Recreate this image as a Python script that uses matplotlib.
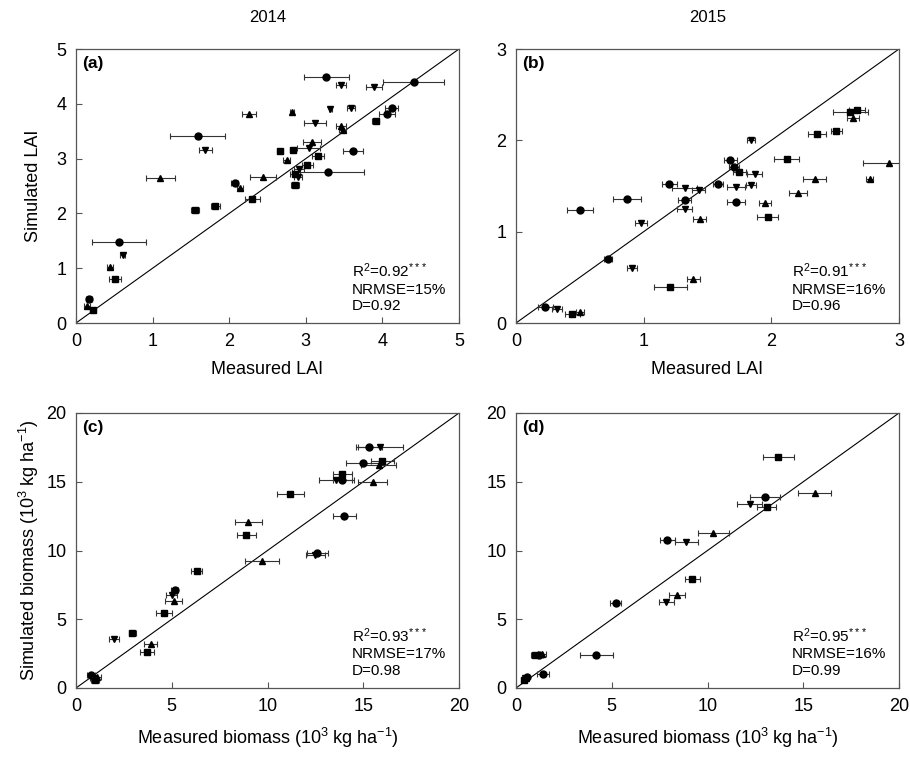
import numpy as np
import matplotlib
matplotlib.use("Agg")
import matplotlib.pyplot as plt

plt.rcParams['font.family'] = ['Liberation Sans', 'DejaVu Sans']
plt.rcParams['mathtext.fontset'] = 'custom'
plt.rcParams['mathtext.rm'] = 'Liberation Sans'
plt.rcParams['mathtext.it'] = 'Liberation Sans:italic'
plt.rcParams['mathtext.bf'] = 'Liberation Sans:bold'

# treatment codes: C circle, S square, T triangle up, V triangle down
# (a) 2014 LAI
lai14_meas = [0.17, 0.14, 0.22, 0.51, 0.44, 0.61, 0.56, 1.10, 1.59, 1.69, 1.55, 1.82, 2.07, 2.14,
              2.30, 2.44, 2.26, 3.27, 3.46, 3.89, 4.41, 2.82, 3.32, 3.59, 3.12, 4.12, 4.06, 3.91,
              3.46, 3.48, 3.08, 3.04, 2.66, 2.83, 3.16, 2.75, 3.62, 3.02, 2.91, 2.86, 2.90, 3.29, 2.86]
lai14_sim = [0.44, 0.31, 0.23, 0.81, 1.02, 1.24, 1.47, 2.65, 3.41, 3.15, 2.07, 2.13, 2.56, 2.47,
             2.26, 2.67, 3.81, 4.48, 4.34, 4.31, 4.40, 3.85, 3.90, 3.93, 3.65, 3.92, 3.82, 3.68,
             3.60, 3.52, 3.30, 3.19, 3.13, 3.16, 3.05, 2.97, 3.13, 2.88, 2.81, 2.71, 2.67, 2.75, 2.52]
lai14_err = [0.04, 0.04, 0.04, 0.08, 0.04, 0.03, 0.35, 0.19, 0.36, 0.09, 0.05, 0.06, 0.04, 0.04,
             0.10, 0.17, 0.09, 0.30, 0.07, 0.10, 0.40, 0.03, 0.02, 0.05, 0.14, 0.08, 0.10, 0.05,
             0.06, 0.05, 0.12, 0.15, 0.04, 0.04, 0.08, 0.05, 0.13, 0.07, 0.06, 0.06, 0.05, 0.47, 0.05]
lai14_trt = ['C', 'T', 'S', 'S', 'T', 'V', 'C', 'T', 'C', 'V', 'S', 'S', 'C', 'T',
             'S', 'T', 'T', 'C', 'V', 'V', 'C', 'T', 'V', 'V', 'V', 'C', 'C', 'S',
             'T', 'T', 'T', 'V', 'S', 'S', 'S', 'T', 'C', 'S', 'V', 'S', 'V', 'C', 'S']

# (b) 2015 LAI
lai15_meas = [0.23, 0.32, 0.44, 0.50, 0.72, 0.50, 0.87, 0.91, 0.98, 1.21, 1.39, 1.20, 1.32, 1.43,
              1.32, 1.32, 1.44, 2.67, 2.62, 2.64, 2.51, 2.36, 1.84, 2.12, 2.92, 1.68, 1.71, 1.75,
              1.87, 2.34, 2.77, 1.58, 1.72, 1.84, 2.21, 1.72, 1.95, 1.97]
lai15_sim = [0.18, 0.15, 0.10, 0.12, 0.70, 1.24, 1.36, 0.60, 1.10, 0.39, 0.48, 1.52, 1.48, 1.46,
             1.35, 1.25, 1.14, 2.33, 2.31, 2.25, 2.10, 2.07, 2.00, 1.80, 1.75, 1.78, 1.71, 1.65,
             1.63, 1.58, 1.58, 1.52, 1.49, 1.51, 1.42, 1.32, 1.31, 1.16]
lai15_err = [0.06, 0.04, 0.06, 0.03, 0.03, 0.10, 0.11, 0.04, 0.05, 0.13, 0.05, 0.06, 0.10, 0.05,
             0.05, 0.06, 0.05, 0.06, 0.14, 0.05, 0.04, 0.07, 0.03, 0.10, 0.20, 0.05, 0.04, 0.05,
             0.06, 0.09, 0.03, 0.04, 0.07, 0.04, 0.07, 0.07, 0.05, 0.08]
lai15_trt = ['C', 'V', 'S', 'T', 'C', 'C', 'C', 'V', 'V', 'S', 'T', 'C', 'V', 'V',
             'C', 'V', 'T', 'S', 'S', 'T', 'S', 'S', 'V', 'S', 'T', 'C', 'C', 'S',
             'V', 'T', 'T', 'C', 'V', 'V', 'T', 'C', 'T', 'S']

# (c) 2014 biomass (10^3 kg/ha)
bio14_meas = [0.8, 1.0, 1.1, 0.9, 1.98, 2.95, 3.9, 3.7, 4.6, 5.1, 5.0, 5.15, 6.3, 9.0, 8.9,
              9.7, 12.6, 12.5, 14.0, 11.2, 13.9, 13.9, 13.6, 15.5, 15.0, 16.0, 15.8, 15.3, 15.9]
bio14_sim = [0.95, 0.6, 0.8, 0.75, 3.6, 4.0, 3.2, 2.65, 5.45, 6.3, 6.8, 7.15, 8.5, 12.1, 11.1,
             9.25, 9.8, 9.65, 12.5, 14.1, 15.6, 15.1, 15.1, 15.0, 16.4, 16.5, 16.25, 17.5, 17.5]
bio14_err = [0.2, 0.2, 0.2, 0.15, 0.25, 0.2, 0.35, 0.35, 0.4, 0.45, 0.3, 0.2, 0.3, 0.7, 0.5,
             0.9, 0.55, 0.5, 0.6, 0.7, 0.5, 0.5, 0.9, 0.75, 0.9, 0.6, 0.9, 0.7, 1.2]
bio14_trt = ['C', 'S', 'T', 'V', 'V', 'S', 'T', 'S', 'S', 'T', 'V', 'C', 'S', 'T', 'S',
             'T', 'C', 'V', 'C', 'S', 'S', 'C', 'V', 'T', 'C', 'S', 'T', 'C', 'V']

# (d) 2015 biomass
bio15_meas = [0.4, 0.5, 0.6, 0.45, 1.4, 1.0, 1.2, 1.36, 4.2, 5.2, 7.85, 8.4, 9.2, 7.9, 8.9,
              10.3, 12.2, 13.0, 13.1, 15.6, 13.7]
bio15_sim = [0.6, 0.75, 0.8, 0.7, 1.0, 2.38, 2.42, 2.45, 2.4, 6.2, 6.25, 6.8, 7.9, 10.75, 10.6,
             11.3, 13.4, 13.9, 13.15, 14.2, 16.8]
bio15_err = [0.1, 0.1, 0.1, 0.1, 0.3, 0.2, 0.2, 0.2, 0.85, 0.3, 0.4, 0.4, 0.4, 0.4, 0.6,
             0.8, 0.65, 0.8, 0.5, 0.85, 0.8]
bio15_trt = ['S', 'T', 'C', 'V', 'C', 'S', 'C', 'T', 'C', 'C', 'V', 'T', 'S', 'C', 'V',
             'T', 'V', 'C', 'S', 'T', 'S']

r2_vals = ['0.92', '0.91', '0.93', '0.95']
nrmse_vals = ['15%', '16%', '17%', '16%']
d_vals = ['0.92', '0.96', '0.98', '0.99']

markers = {'C': 'o', 'S': 's', 'T': '^', 'V': 'v'}

fig = plt.figure(figsize=(9.1, 7.59), dpi=100)
W, H = 910.0, 759.0
boxes = [(76, 49, 383, 274), (516, 49, 383, 274), (76, 413, 383, 275), (516, 413, 383, 275)]
axes = [fig.add_axes([l / W, 1 - (t + h) / H, w / W, h / H]) for (l, t, w, h) in boxes]

datasets = [(lai14_meas, lai14_sim, lai14_err, lai14_trt, 5, 1),
            (lai15_meas, lai15_sim, lai15_err, lai15_trt, 3, 1),
            (bio14_meas, bio14_sim, bio14_err, bio14_trt, 20, 5),
            (bio15_meas, bio15_sim, bio15_err, bio15_trt, 20, 5)]
letters = ['(a)', '(b)', '(c)', '(d)']

for i, ax in enumerate(axes):
    meas, sim, err, trt, lim, step = datasets[i]
    meas = np.array(meas)
    sim = np.array(sim)
    err = np.array(err)
    trt = np.array(trt)
    ax.plot([0, lim], [0, lim], color='black', lw=0.8, zorder=1)
    for code, m in markers.items():
        sel = trt == code
        ax.errorbar(meas[sel], sim[sel], xerr=err[sel], fmt=m, color='black', ecolor='#333333',
                    ms=5, elinewidth=0.8, capsize=2.5, capthick=0.8, zorder=3, clip_on=True)
    ax.set_xlim(0, lim)
    ax.set_ylim(0, lim)
    ax.set_xticks(np.arange(0, lim + 0.01, step))
    ax.set_yticks(np.arange(0, lim + 0.01, step))
    ax.tick_params(direction='in', length=4, width=0.8, labelsize=13, pad=7, color='#555555')
    for s in ax.spines.values():
        s.set_color('#555555')
        s.set_linewidth(0.9)
    ax.text(0.015, 0.975, letters[i], transform=ax.transAxes, fontsize=12.5, fontweight='bold',
            va='top', ha='left')
    txt = (r'R$^\mathregular{2}$=' + r2_vals[i] + r'$^\mathregular{***}$' + '\nNRMSE='
           + nrmse_vals[i] + '\nD=' + d_vals[i])
    ax.text(0.72, 0.225, txt, transform=ax.transAxes, fontsize=11, va='top', ha='left',
            linespacing=1.25)

axes[0].set_xlabel('Measured LAI', fontsize=13, labelpad=8)
axes[1].set_xlabel('Measured LAI', fontsize=13, labelpad=8)
axes[0].set_ylabel('Simulated LAI', fontsize=13, labelpad=10)
bio_lab = r'biomass (10$^\mathregular{3}$ kg ha$^\mathregular{-1}$)'
axes[2].set_xlabel('Measured ' + bio_lab, fontsize=13, labelpad=8)
axes[3].set_xlabel('Measured ' + bio_lab, fontsize=13, labelpad=8)
axes[2].set_ylabel('Simulated ' + bio_lab, fontsize=13, labelpad=4)

fig.text(268 / W, 1 - 18 / H, '2014', fontsize=12, ha='center', va='center')
fig.text(708 / W, 1 - 18 / H, '2015', fontsize=12, ha='center', va='center')

fig.savefig('out.png', dpi=100)
